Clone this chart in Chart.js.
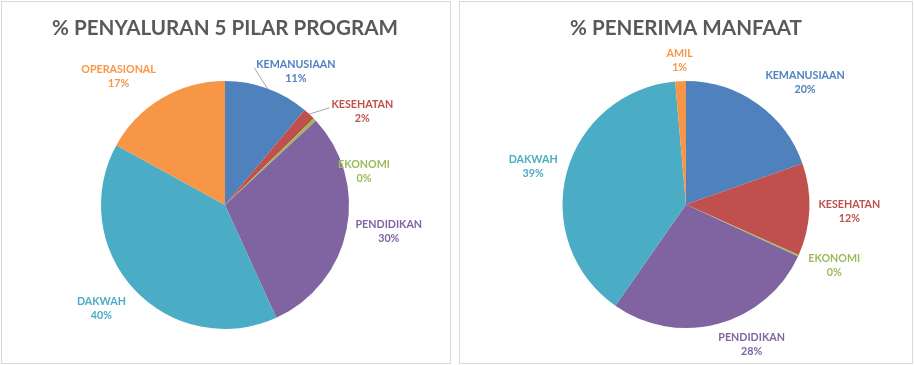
<!DOCTYPE html>
<html>
<head>
<meta charset="utf-8">
<script src="https://cdn.jsdelivr.net/npm/chart.js@4.4.1/dist/chart.umd.min.js"></script>
<style>
  body { margin: 0; background: #fff; width: 914px; height: 365px; position: relative; overflow: hidden; }
  .panel { position: absolute; top: 1px; height: 361px; border: 1px solid #d9d9d9; background: #fff; }
  #boxLeft { left: 1px; width: 448px; }
  #boxRight { left: 459px; width: 452px; }
</style>
</head>
<body>
<div class="panel" id="boxLeft"><canvas id="pilarChart"></canvas></div>
<div class="panel" id="boxRight"><canvas id="penerimaChart"></canvas></div>
<script>
// % penyaluran 5 pilar program
const pilarLabels = ["KEMANUSIAAN", "KESEHATAN", "EKONOMI", "PENDIDIKAN", "DAKWAH", "OPERASIONAL"];
const pilarValues = [11.1, 1.6, 0.4, 30.1, 39.8, 17.0];

// % penerima manfaat
const penerimaLabels = ["KEMANUSIAAN", "KESEHATAN", "EKONOMI", "PENDIDIKAN", "DAKWAH", "AMIL"];
const penerimaValues = [19.6, 12.1, 0.2, 27.8, 38.9, 1.4];

const sliceColors = {
  KEMANUSIAAN: "#4f81bd",
  KESEHATAN: "#c0504d",
  EKONOMI: "#9bbb59",
  PENDIDIKAN: "#8064a2",
  DAKWAH: "#4bacc6",
  OPERASIONAL: "#f79646",
  AMIL: "#f79646",
};

// label placement: [angle nudge in degrees, gap outside the pie]
const pilarLabelShift = [[8, 27], [13, 42], [30, 19], [-2, 42], [3, 37], [-9, 43]];
const pilarLeader = [true, true, false, false, false, false];
const penerimaLabelShift = [[9, 47], [0, 40], [-2, 37], [-10, 31], [-1, 34], [0, 21]];
const penerimaLeader = [false, false, false, false, false, false];

const outsideLabels = {
  id: "outsideLabels",
  afterDatasetsDraw(chart, args, opts) {
    const ctx = chart.ctx;
    const meta = chart.getDatasetMeta(0);
    const ds = chart.data.datasets[0];
    const total = ds.data.reduce((a, b) => a + b, 0);
    ctx.save();
    ctx.font = "bold 10.7px Lato";
    ctx.textAlign = "center";
    ctx.textBaseline = "middle";
    meta.data.forEach((arc, i) => {
      const p = arc.getProps(["x", "y", "startAngle", "endAngle", "outerRadius"], true);
      const mid = (p.startAngle + p.endAngle) / 2;
      const ang = mid + (opts.shift[i][0] * Math.PI) / 180;
      const dist = p.outerRadius + opts.shift[i][1];
      const lx = p.x + Math.cos(ang) * dist;
      const ly = p.y + Math.sin(ang) * dist;
      const name = chart.data.labels[i];
      const pct = Math.round((ds.data[i] / total) * 100) + "%";
      if (opts.leader[i]) {
        const w = ctx.measureText(name).width;
        ctx.strokeStyle = "#a6a6a6";
        ctx.lineWidth = 1;
        ctx.beginPath();
        ctx.moveTo(p.x + Math.cos(mid) * p.outerRadius, p.y + Math.sin(mid) * p.outerRadius);
        ctx.lineTo(lx - w / 2 - 2, ly - 4);
        ctx.stroke();
      }
      ctx.fillStyle = ds.backgroundColor[i];
      ctx.fillText(name, lx, ly - 7);
      ctx.fillText(pct, lx, ly + 7);
    });
    ctx.restore();
  },
};

function makePie(id, title, labels, values, shift, leader, padding) {
  const ctx = document.getElementById(id).getContext("2d");
  new Chart(ctx, {
    type: "pie",
    data: {
      labels: labels,
      datasets: [
        {
          data: values,
          backgroundColor: labels.map((l) => sliceColors[l]),
          borderWidth: 0,
        },
      ],
    },
    options: {
      responsive: true,
      maintainAspectRatio: false,
      animation: false,
      layout: { padding: padding },
      plugins: {
        legend: { display: false },
        tooltip: { enabled: false },
        title: {
          display: true,
          text: title,
          color: "#595959",
          font: { family: "Lato", size: 20.6, weight: "bold" },
          padding: { top: 14, bottom: 40.3 },
        },
        outsideLabels: { shift: shift, leader: leader },
      },
    },
    plugins: [outsideLabels],
  });
}

makePie("pilarChart", "% PENYALURAN 5 PILAR PROGRAM", pilarLabels, pilarValues,
  pilarLabelShift, pilarLeader, { left: 0, right: 2, bottom: 34 });
makePie("penerimaChart", "% PENERIMA MANFAAT", penerimaLabels, penerimaValues,
  penerimaLabelShift, penerimaLeader, { left: 0, right: 0, bottom: 35 });
</script>
</body>
</html>
